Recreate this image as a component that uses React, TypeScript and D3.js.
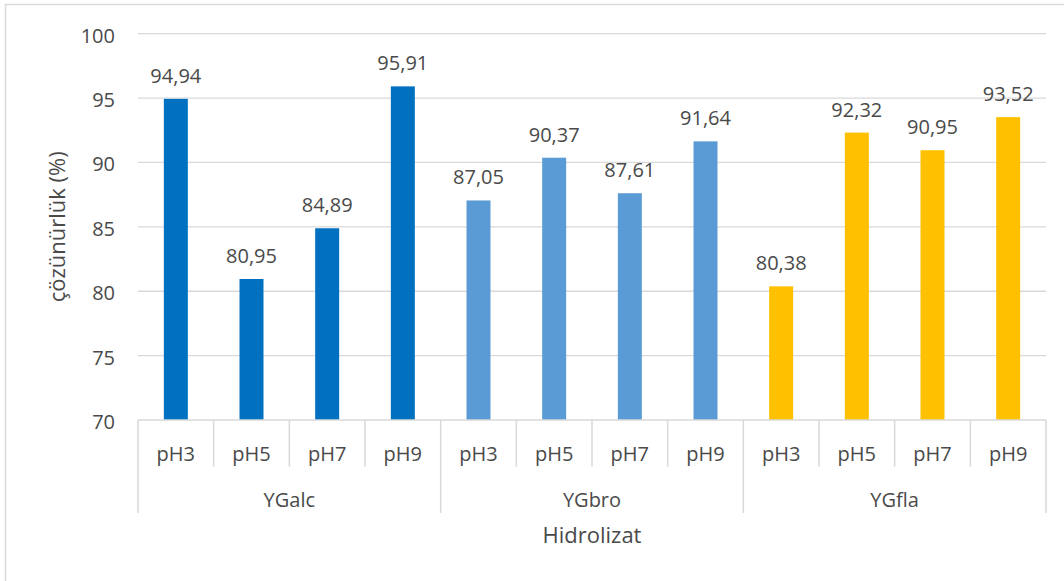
import React from "react";
import * as d3 from "d3";

const groups = ["YGalc", "YGbro", "YGfla"];
const phLabels = ["pH3", "pH5", "pH7", "pH9"];
const ygalcValues = [94.94, 80.95, 84.89, 95.91];
const ygbroValues = [87.05, 90.37, 87.61, 91.64];
const ygflaValues = [80.38, 92.32, 90.95, 93.52];
const groupColors = ["#0070C0", "#5B9BD5", "#FFC000"];
const yTicks = [70, 75, 80, 85, 90, 95, 100];
const yTitle = "çözünürlük (%)";
const xTitle = "Hidrolizat";

const W = 1064;
const H = 581;
const plotLeft = 138;
const plotRight = 1046;
const plotTop = 33.7;
const plotBottom = 420;
const FONT = "'Open Sans', sans-serif";
const TEXT = "#4a4a4a";
const GRID = "#D9D9D9";

const fmt = (v: number) => v.toFixed(2).replace(".", ",");

export default function App() {
  const seriesValues = [ygalcValues, ygbroValues, ygflaValues];
  const data = groups.flatMap((g, gi) =>
    phLabels.map((p, pi) => ({
      key: `${g}-${p}`,
      group: g,
      gi,
      ph: p,
      value: seriesValues[gi][pi],
    }))
  );
  const pad = 0.683;
  const x = d3
    .scaleBand<string>()
    .domain(data.map((d) => d.key))
    .range([plotLeft, plotRight])
    .paddingInner(pad)
    .paddingOuter(pad / 2);
  const step = x.step();
  const y = d3.scaleLinear().domain([70, 100]).range([plotBottom, plotTop]);

  const catLeft = (i: number) => plotLeft + i * step;

  return (
    <svg
      width={W}
      height={H}
      style={{ position: "absolute", left: 0, top: 0, background: "#fff" }}
      fontFamily={FONT}
    >
      <rect x={5.5} y={4.5} width={W + 20} height={H + 20} fill="#fff" stroke={GRID} strokeWidth={1.5} />
      {yTicks.map((t) => (
        <g key={t}>
          {t !== 70 && (
            <line x1={plotLeft} x2={plotRight} y1={y(t)} y2={y(t)} stroke={GRID} strokeWidth={1.3} />
          )}
          <text x={115} y={y(t) + 9} textAnchor="end" fontSize={20} fill={TEXT}>
            {t}
          </text>
        </g>
      ))}
      {data.map((d) => (
        <g key={d.key}>
          <rect
            x={x(d.key)!}
            y={y(d.value)}
            width={x.bandwidth()}
            height={plotBottom - y(d.value)}
            fill={groupColors[d.gi]}
          />
          <text
            x={x(d.key)! + x.bandwidth() / 2}
            y={y(d.value) - 16}
            textAnchor="middle"
            fontSize={20}
            fill={TEXT}
          >
            {fmt(d.value)}
          </text>
        </g>
      ))}
      {/* category axis */}
      <line x1={plotLeft} x2={plotRight} y1={plotBottom} y2={plotBottom} stroke={GRID} strokeWidth={1.5} />
      {d3.range(data.length + 1).map((i) => {
        const isGroup = i % phLabels.length === 0;
        return (
          <line
            key={`t${i}`}
            x1={catLeft(i)}
            x2={catLeft(i)}
            y1={plotBottom}
            y2={isGroup ? 513 : 466.7}
            stroke={GRID}
            strokeWidth={1.5}
          />
        );
      })}
      {data.map((d, i) => (
        <text key={`l${d.key}`} x={catLeft(i) + step / 2} y={461} textAnchor="middle" fontSize={20} fill={TEXT}>
          {d.ph}
        </text>
      ))}
      {groups.map((g, gi) => (
        <text
          key={g}
          x={catLeft(gi * phLabels.length) + (step * phLabels.length) / 2}
          y={507}
          textAnchor="middle"
          fontSize={20}
          fill={TEXT}
        >
          {g}
        </text>
      ))}
      <text x={(plotLeft + plotRight) / 2} y={543} textAnchor="middle" fontSize={22} fill={TEXT}>
        {xTitle}
      </text>
      <text
        transform={`translate(65, ${(plotTop + plotBottom) / 2}) rotate(-90)`}
        textAnchor="middle"
        fontSize={22}
        fill={TEXT}
      >
        {yTitle}
      </text>
    </svg>
  );
}
